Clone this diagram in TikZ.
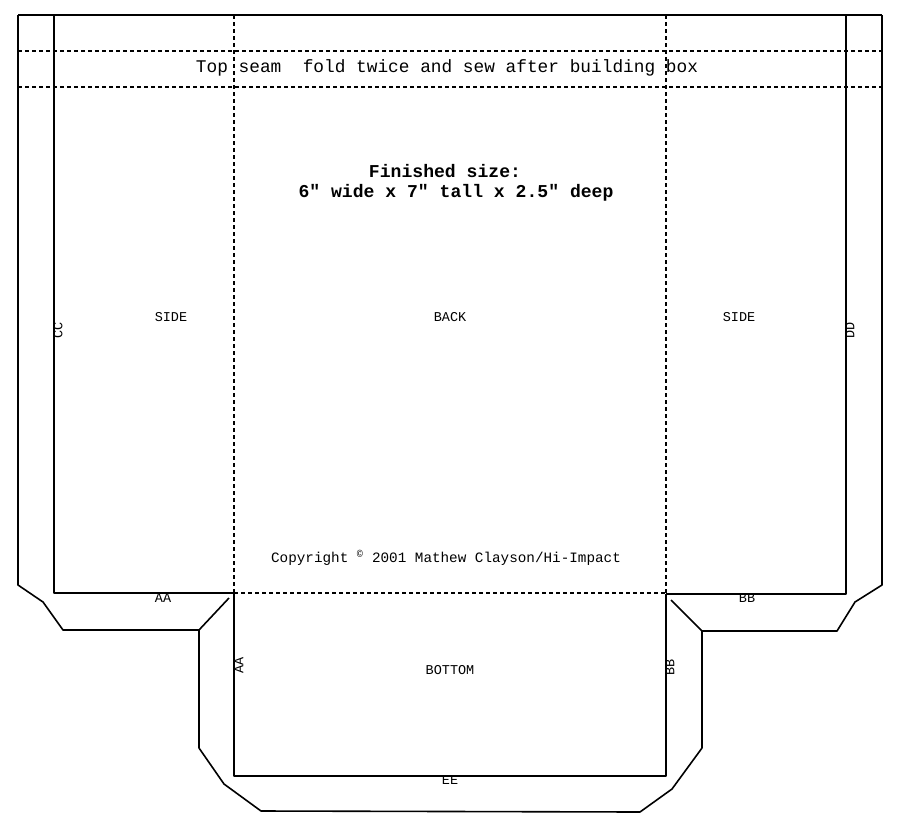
\documentclass[tikz,border=0pt]{standalone}
\usepackage{fontspec}
\setmonofont{Liberation Mono}
\tikzset{
  cut/.style={draw,line width=1.6pt,line join=round},
  fold/.style={draw,line width=1.6pt,dash pattern=on 4pt off 3pt},
  lbl/.style={font=\ttfamily\fontsize{13.5}{14}\selectfont,inner sep=0pt},
  bigtxt/.style={font=\ttfamily\fontsize{17.8}{19}\selectfont,inner sep=0pt},
  boldtxt/.style={font=\ttfamily\bfseries\fontsize{18.1}{19}\selectfont,inner sep=0pt},
}
\begin{document}
\begin{tikzpicture}[x=1pt,y=-1pt]
\useasboundingbox (0,0) rectangle (899,827);

% fold lines
\path[fold] (18,51) -- (882,51);
\path[fold] (18,87) -- (882,87);
\path[fold] (234,15) -- (234,593);
\path[fold] (666,15) -- (666,593);
\path[fold] (234,593) -- (666,593);

% sides and seam
\path[cut] (18,15) -- (882,15);
\path[cut] (54,15) -- (54,593) -- (234,593);
\path[cut] (846,15) -- (846,594) -- (666,594);

% left flap
\path[cut] (18,15) -- (18,585) -- (43,602) -- (63,630) -- (199,630) -- (229,598);
% right flap
\path[cut] (882,15) -- (882,585) -- (855,602) -- (837,631) -- (702,631) -- (671,600);

% bottom
\path[cut] (234,593) -- (234,776) -- (666,776) -- (666,594);
\path[cut] (199,630) -- (199,748) -- (224,784) -- (261,811) -- (640,812) -- (672,789) -- (702,748) -- (702,631);

% texts
\node[bigtxt] (seam) at (447,68) {Top seam\ \ fold twice and sew after building box};
\node[boldtxt] (fin) at (445,171) {Finished size:};
\node[boldtxt] (dims) at (456,193) {6" wide x 7" tall x 2.5" deep};
\node[lbl,font=\ttfamily\fontsize{14.3}{15}\selectfont] (copy) at (446,558) {Copyright \textsuperscript{\textcopyright} 2001 Mathew Clayson/Hi-Impact};

\node[lbl] (sideL) at (171,317) {SIDE};
\node[lbl] (back) at (450,317) {BACK};
\node[lbl] (sideR) at (739,317) {SIDE};
\node[lbl] (bottom) at (450,670) {BOTTOM};

\node[lbl] (aa) at (163,598) {AA};
\node[lbl] (bb) at (747,598) {BB};
\node[lbl] (ee) at (450,780) {EE};
\node[lbl,rotate=90] (aaV) at (239,665) {AA};
\node[lbl,rotate=90] (bbV) at (670,667) {BB};
\node[lbl,rotate=90] (cc) at (58,330) {CC};
\node[lbl,rotate=90] (dd) at (850,330) {DD};

\end{tikzpicture}
\end{document}
